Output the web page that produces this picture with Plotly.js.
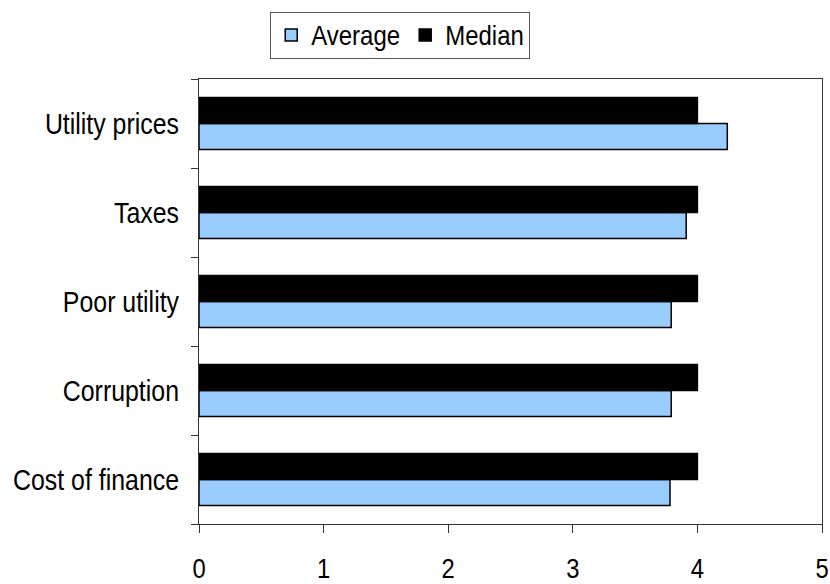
<!DOCTYPE html>
<html>
<head>
<meta charset="utf-8">
<script src="https://cdn.plot.ly/plotly-3.0.1.min.js"></script>
<style>
  html, body { margin: 0; padding: 0; background: #fff; }
  #chart { width: 830px; height: 584px; }
  /* tall, tightly set lettering */
  #chart g.ytick {
    transform-box: fill-box;
    transform-origin: right center;
    transform: scaleX(0.83);
  }
  #chart g.xtick {
    transform-box: fill-box;
    transform-origin: center center;
    transform: scaleX(0.85);
  }
  #chart text.legendtext {
    transform-box: fill-box;
    transform-origin: left center;
    transform: scaleY(1.12);
  }
</style>
</head>
<body>
<div id="chart"></div>
<script>
// Constraints rated by firms: average and median scores
const categories = ['Cost of finance', 'Corruption', 'Poor utility', 'Taxes', 'Utility prices'];
const averageScores = [3.78, 3.79, 3.79, 3.91, 4.24];
const medianScores = [4, 4, 4, 4, 4];
const xTicks = [0, 1, 2, 3, 4, 5];

const font = '"Liberation Sans", Arial, sans-serif';

const traces = [
  {
    type: 'bar',
    orientation: 'h',
    name: 'Average',
    y: categories,
    x: averageScores,
    marker: { color: '#99CCFF', line: { color: '#000', width: 1.5 } },
    hoverinfo: 'none'
  },
  {
    type: 'bar',
    orientation: 'h',
    name: 'Median',
    y: categories,
    x: medianScores,
    marker: { color: '#000', line: { color: '#000', width: 1.5 } },
    hoverinfo: 'none'
  }
];

const layout = {
  width: 830,
  height: 584,
  margin: { l: 199, r: 8, t: 79, b: 60 },
  paper_bgcolor: '#fff',
  plot_bgcolor: '#fff',
  barmode: 'group',
  bargap: 0.415,
  bargroupgap: 0,
  font: { family: font, color: '#000', size: 24 },
  showlegend: true,
  legend: {
    orientation: 'h',
    x: 0.323,
    xanchor: 'center',
    y: 1.045,
    yanchor: 'bottom',
    bordercolor: '#555',
    borderwidth: 1,
    bgcolor: '#fff',
    font: { family: font, size: 24, color: '#000' },
    traceorder: 'normal',
    itemwidth: 30
  },
  xaxis: {
    range: [0, 5],
    tickvals: xTicks,
    ticktext: xTicks.map(String),
    ticks: 'outside',
    ticklen: 8,
    tickcolor: '#333',
    tickwidth: 1,
    ticklabelstandoff: 11,
    tickfont: { family: font, size: 28, color: '#000' },
    showgrid: false,
    zeroline: false,
    showline: true,
    linecolor: '#333',
    linewidth: 1,
    mirror: true,
    fixedrange: true
  },
  yaxis: {
    type: 'category',
    categoryorder: 'array',
    categoryarray: categories,
    ticks: 'outside',
    tickson: 'boundaries',
    ticklen: 7,
    tickcolor: '#333',
    tickwidth: 1,
    ticklabelstandoff: 13,
    tickfont: { family: font, size: 30, color: '#000' },
    showgrid: false,
    zeroline: false,
    showline: true,
    linecolor: '#333',
    linewidth: 1,
    mirror: true,
    fixedrange: true
  }
};

Plotly.newPlot('chart', traces, layout, { displayModeBar: false, staticPlot: true });
</script>
</body>
</html>
